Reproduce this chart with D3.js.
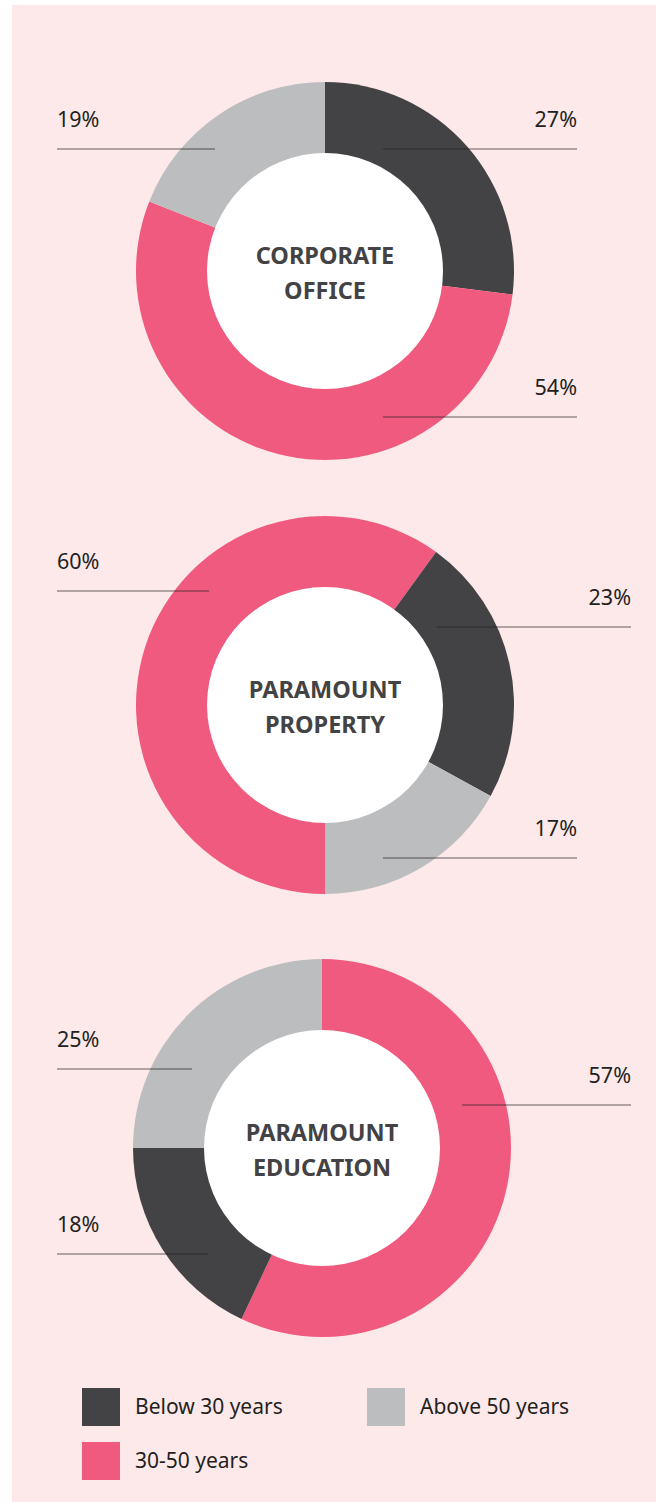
<!DOCTYPE html>
<html>
<head>
<meta charset="utf-8">
<script src="https://cdn.jsdelivr.net/npm/d3@7"></script>
<style>
  html, body { margin: 0; padding: 0; background: #fff; }
  svg { display: block; }
</style>
</head>
<body>
<div id="chart"></div>
<script>
const categories = ["Below 30 years", "30-50 years", "Above 50 years"];
const groups = [["CORPORATE", "OFFICE"], ["PARAMOUNT", "PROPERTY"], ["PARAMOUNT", "EDUCATION"]];
const below30 = [27, 23, 18];
const between30and50 = [54, 60, 57];
const above50 = [19, 17, 25];

const width = 656, height = 1502;
const color = d3.scaleOrdinal().domain(categories).range(["#434244", "#f05a7e", "#bcbdbf"]);

// per-chart layout: centre, slice order, start angle, label placement
const layout = [
  { cx: 325, cy: 271, order: [0, 1, 2], start: 0,
    labels: [
      { cat: 0, side: "right", y: -122, x0: 58, x1: 577 },
      { cat: 1, side: "right", y: 146, x0: 58, x1: 577 },
      { cat: 2, side: "left", y: -122, x0: 57, x1: -110 },
    ] },
  { cx: 325, cy: 705, order: [1, 0, 2], start: Math.PI,
    labels: [
      { cat: 1, side: "left", y: -114, x0: 57, x1: -116 },
      { cat: 0, side: "right", y: -78, x0: 112, x1: 631 },
      { cat: 2, side: "right", y: 153, x0: 58, x1: 577 },
    ] },
  { cx: 322, cy: 1148, order: [1, 0, 2], start: 0,
    labels: [
      { cat: 2, side: "left", y: -79, x0: 57, x1: -130 },
      { cat: 1, side: "right", y: -43, x0: 140, x1: 631 },
      { cat: 0, side: "left", y: 106, x0: 57, x1: -114 },
    ] },
];

const outerR = 189, innerR = 118;
const font = "'Noto Sans', sans-serif";

const svg = d3.select("#chart").append("svg").attr("width", width).attr("height", height);
svg.append("rect").attr("x", 12).attr("y", 5).attr("width", width - 12).attr("height", height - 5).attr("fill", "#fde9ea");

const arc = d3.arc().innerRadius(0).outerRadius(outerR);

layout.forEach((cfg, i) => {
  const values = [below30[i], between30and50[i], above50[i]];
  const data = cfg.order.map((c) => ({ cat: categories[c], value: values[c] }));
  const pie = d3.pie().sort(null).value((d) => d.value)
    .startAngle(cfg.start).endAngle(cfg.start + 2 * Math.PI);
  const g = svg.append("g").attr("transform", `translate(${cfg.cx},${cfg.cy})`);
  g.selectAll("path.slice").data(pie(data)).join("path")
    .attr("class", "slice").attr("d", arc).attr("fill", (d) => color(d.data.cat));
  g.append("circle").attr("r", innerR).attr("fill", "#fff");

  g.selectAll("text.title").data(groups[i]).join("text")
    .attr("class", "title").attr("text-anchor", "middle")
    .attr("y", (d, k) => k === 0 ? -7 : 28)
    .attr("font-family", font).attr("font-weight", 700).attr("font-size", 23.5)
    .attr("fill", "#434244").text((d) => d);

  cfg.labels.forEach((lab) => {
    const ly = cfg.cy + lab.y;
    const xa = lab.side === "left" ? lab.x0 : cfg.cx + lab.x0;
    const xb = lab.side === "left" ? cfg.cx + lab.x1 : lab.x1;
    svg.append("line").attr("x1", xa).attr("x2", xb).attr("y1", ly).attr("y2", ly)
      .attr("stroke", "rgba(35,31,32,0.7)").attr("stroke-width", 1.2);
    svg.append("text").attr("x", lab.side === "left" ? xa : xb).attr("y", ly - 22)
      .attr("text-anchor", lab.side === "left" ? "start" : "end")
      .attr("font-family", font).attr("font-size", 21.5).attr("fill", "#231f20")
      .text(values[lab.cat] + "%");
  });
});

// legend
const legendItems = [
  { cat: categories[0], x: 82, y: 1388 },
  { cat: categories[2], x: 367, y: 1388 },
  { cat: categories[1], x: 82, y: 1442 },
];
const lg = svg.selectAll("g.legend").data(legendItems).join("g")
  .attr("class", "legend").attr("transform", (d) => `translate(${d.x},${d.y})`);
lg.append("rect").attr("width", 38).attr("height", 38).attr("fill", (d) => color(d.cat));
lg.append("text").attr("x", 53).attr("y", 26).attr("font-family", font).attr("font-size", 21)
  .attr("fill", "#231f20").text((d) => d.cat);
</script>
</body>
</html>
